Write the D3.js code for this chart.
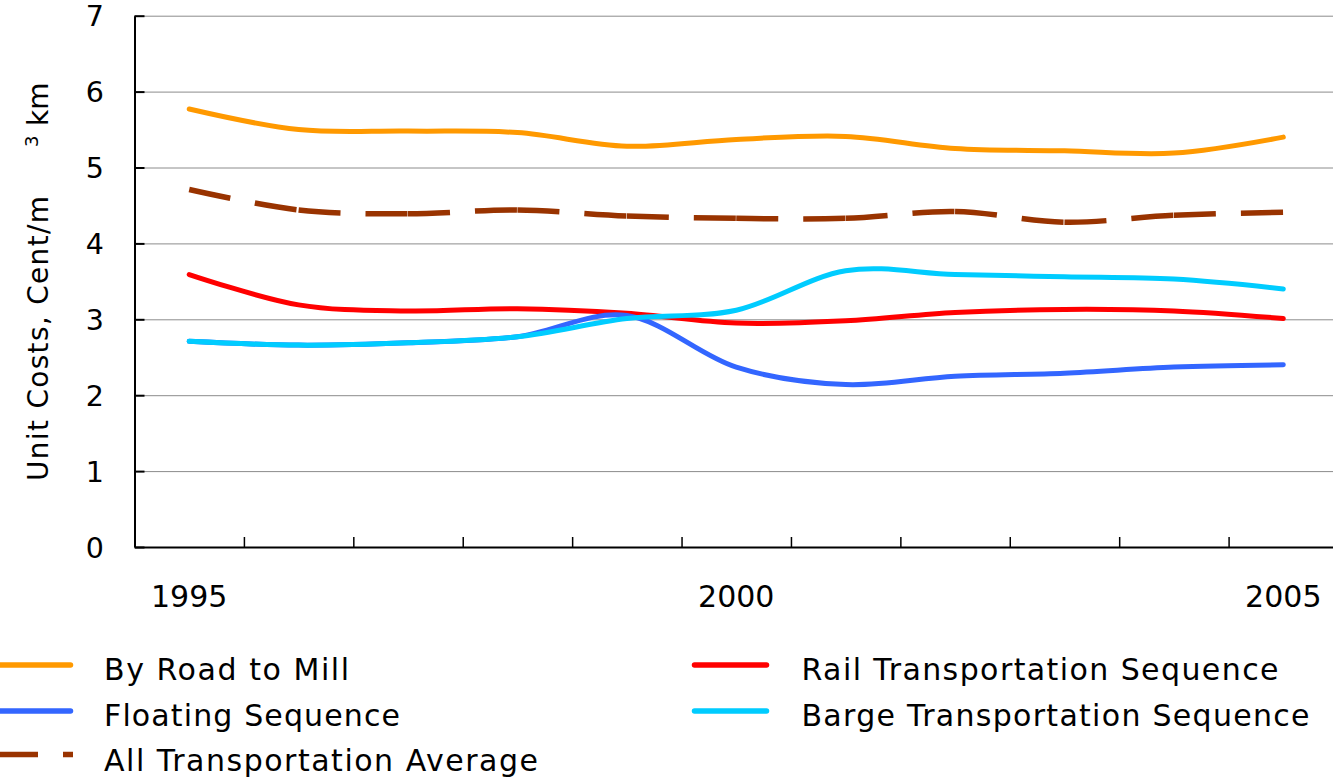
<!DOCTYPE html>
<html>
<head>
<meta charset="utf-8">
<script src="https://cdn.jsdelivr.net/npm/d3@7/dist/d3.min.js"></script>
<style>
  html, body { margin: 0; padding: 0; background: #fff; }
  svg { display: block; }
  text { font-family: "DejaVu Sans", sans-serif; fill: #000; }
</style>
</head>
<body>
<svg id="chart" width="1333" height="778"></svg>
<script>
// ---------------- data ----------------
const years = [1995, 1996, 1997, 1998, 1999, 2000, 2001, 2002, 2003, 2004, 2005];
const xTickLabels = [1995, 2000, 2005];
const yTicks = [0, 1, 2, 3, 4, 5, 6, 7];

const seriesNames = [
  "By Road to Mill",
  "Rail Transportation Sequence",
  "Floating Sequence",
  "Barge Transportation Sequence",
  "All Transportation Average"
];
const roadToMill   = [5.77, 5.50, 5.48, 5.46, 5.28, 5.37, 5.41, 5.25, 5.22, 5.19, 5.40];
const railSeq      = [3.59, 3.19, 3.11, 3.14, 3.08, 2.95, 2.98, 3.09, 3.13, 3.11, 3.01];
const floatingSeq  = [2.71, 2.66, 2.69, 2.77, 3.05, 2.37, 2.14, 2.25, 2.29, 2.37, 2.40];
const bargeSeq     = [2.71, 2.66, 2.69, 2.77, 3.01, 3.12, 3.64, 3.59, 3.56, 3.53, 3.40];
const allAverage   = [4.71, 4.44, 4.39, 4.44, 4.36, 4.33, 4.33, 4.42, 4.28, 4.37, 4.41];
const seriesValues = [roadToMill, railSeq, floatingSeq, bargeSeq, allAverage];

const yTitleMain = "Unit Costs, Cent/m";
const yTitleSup = "3";
const yTitleEnd = "km";

// ---------------- styles / layout ----------------
const colors = ["#FF9900", "#FF0000", "#3366FF", "#00CCFF", "#993300"];
const dashed = [false, false, false, false, true];
const plot = { left: 134.5, right: 1338, top: 15.7, bottom: 547 };

const svg = d3.select("#chart");

const x = d3.scaleBand().domain(years).range([plot.left, plot.right]).padding(0);
const xEdge = d3.scaleLinear().domain([0, years.length]).range([plot.left, plot.right]);
const y = d3.scaleLinear().domain([0, 7]).range([plot.bottom, plot.top]);
const cx = d => x(d) + x.bandwidth() / 2;

// gridlines
const grid = svg.append("g")
  .attr("transform", `translate(${plot.left},0)`)
  .call(d3.axisLeft(y).tickValues(yTicks.filter(v => v > 0))
        .tickSize(-(plot.right - plot.left)).tickFormat(""));
grid.select(".domain").remove();
grid.selectAll("line").attr("stroke", "#8c8c8c").attr("stroke-width", 1);

// y axis
const yAxis = svg.append("g")
  .attr("transform", `translate(${plot.left},0)`)
  .call(d3.axisLeft(y).tickValues(yTicks).tickFormat(d3.format("d"))
        .tickSizeInner(-10).tickSizeOuter(0).tickPadding(30.5));
yAxis.select(".domain").attr("stroke", "#000").attr("stroke-width", 2);
yAxis.selectAll(".tick line").attr("stroke", "#000").attr("stroke-width", 2);
yAxis.selectAll("text")
  .attr("font-family", "DejaVu Sans").attr("font-size", 28.5).attr("dy", "0.36em");

// x axis: category-boundary ticks
const xAxis = svg.append("g")
  .attr("transform", `translate(0,${plot.bottom})`)
  .call(d3.axisBottom(xEdge).tickValues(d3.range(1, years.length))
        .tickSizeInner(-10).tickSizeOuter(0).tickFormat(""));
xAxis.select(".domain").attr("stroke", "#000").attr("stroke-width", 2);
xAxis.selectAll(".tick line").attr("stroke", "#000").attr("stroke-width", 1.5);

// x labels at category centers
const xLab = svg.append("g")
  .attr("transform", `translate(0,${plot.bottom})`)
  .call(d3.axisBottom(x).tickValues(xTickLabels).tickSize(0).tickPadding(38.7));
xLab.select(".domain").remove();
xLab.selectAll("text").attr("font-family", "DejaVu Sans").attr("font-size", 30);

// y title
const yt = svg.append("g").attr("transform", "translate(48,481) rotate(-90)");
yt.append("text").attr("x", 0).attr("y", 0).attr("font-size", 28)
  .attr("textLength", 285).attr("lengthAdjust", "spacing").text(yTitleMain);
yt.append("text").attr("x", 334).attr("y", -10).attr("font-size", 18).text(yTitleSup);
yt.append("text").attr("x", 355).attr("y", 0).attr("font-size", 28).text(yTitleEnd);

// lines
const lineGen = d3.line()
  .x((d, i) => cx(years[i]))
  .y(d => y(d))
  .curve(d3.curveCardinal.tension(0));

const linesG = svg.append("g");
seriesValues.forEach((vals, si) => {
  if (!dashed[si]) {
    linesG.append("path")
      .attr("d", lineGen(vals))
      .attr("fill", "none")
      .attr("stroke", colors[si])
      .attr("stroke-width", 5)
      .attr("stroke-linecap", "round")
      .attr("stroke-linejoin", "round");
  } else {
    // each smoothed segment drawn separately so the dash pattern restarts per segment
    const d = lineGen(vals);
    const parts = d.slice(1).split("C");
    let start = parts[0];
    for (let i = 1; i < parts.length; i++) {
      linesG.append("path")
        .attr("d", "M" + start + "C" + parts[i])
        .attr("fill", "none")
        .attr("stroke", colors[si])
        .attr("stroke-width", 5.5)
        .attr("stroke-dasharray", "42,25")
        .attr("stroke-linecap", "butt");
      const nums = parts[i].split(",");
      start = nums[nums.length - 2] + "," + nums[nums.length - 1];
    }
  }
});

// legend
const legendPos = [
  { lx: -4, tx: 104, ly: 665, ty: 680, tl: 245 },
  { lx: 692, tx: 801.5, ly: 665, ty: 680, tl: 477 },
  { lx: -4, tx: 104, ly: 711, ty: 726, tl: 296 },
  { lx: 692, tx: 801.5, ly: 711, ty: 726, tl: 508 },
  { lx: -4, tx: 104, ly: 754.5, ty: 770.5, tl: 434 }
];
const legend = svg.append("g");
seriesNames.forEach((name, si) => {
  const p = legendPos[si];
  if (!dashed[si]) {
    legend.append("line")
      .attr("x1", p.lx + 2.5).attr("x2", p.lx + 74.5)
      .attr("y1", p.ly).attr("y2", p.ly)
      .attr("stroke", colors[si]).attr("stroke-width", 5.5)
      .attr("stroke-linecap", "round");
  } else {
    legend.append("line")
      .attr("x1", p.lx).attr("x2", p.lx + 77)
      .attr("y1", p.ly).attr("y2", p.ly)
      .attr("stroke", colors[si]).attr("stroke-width", 5.5)
      .attr("stroke-dasharray", "42,25");
  }
  legend.append("text")
    .attr("x", p.tx).attr("y", p.ty)
    .attr("font-size", 30)
    .attr("textLength", p.tl).attr("lengthAdjust", "spacing")
    .text(name);
});
</script>
</body>
</html>
